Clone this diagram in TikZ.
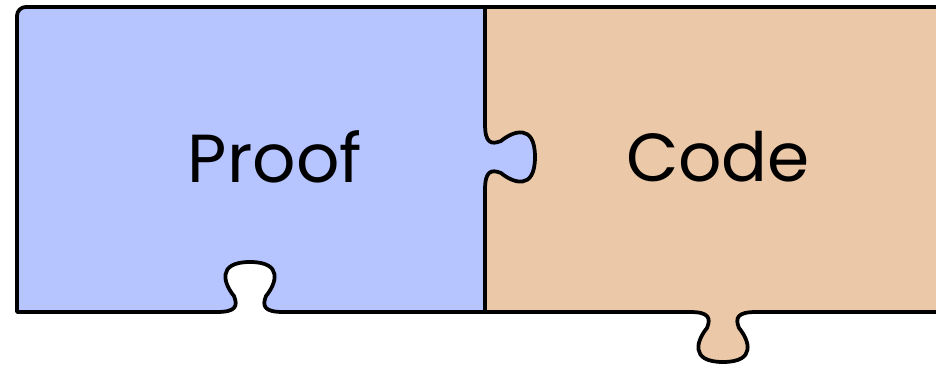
\documentclass[tikz,border=0pt]{standalone}
\usepackage{fontspec}
\setmainfont{Poppins}
\usepackage{tikz}
\usetikzlibrary{positioning}
\definecolor{ProofBlue}{HTML}{B6C4FF}
\definecolor{CodeTan}{HTML}{EBC9A8}

\begin{document}
\begin{tikzpicture}[x=0.03cm,y=0.03cm,line width=3.2pt,line join=round,
  piecelabel/.style={font=\fontsize{58}{60}\selectfont,inner sep=0pt}]
\useasboundingbox (0,0) rectangle (936,365);
\clip (0,0) rectangle (936,365);
% Code piece (fill), tab at the bottom
\fill[CodeTan] (485,53) -- (485,358) -- (950,358) -- (950,53) -- (756,53)
  .. controls (737,53) and (735,47) .. (739,37) .. controls (749,25) and (757,3) .. (723,3)
  .. controls (689,3) and (697,25) .. (707,37) .. controls (711,47) and (709,53) .. (690,53) -- cycle;
\draw (485,358) -- (950,358);
\draw (485,53) -- (690,53) .. controls (709,53) and (711,47) .. (707,37)
  .. controls (697,25) and (689,3) .. (723,3) .. controls (757,3) and (749,25) .. (739,37)
  .. controls (735,47) and (737,53) .. (756,53) -- (950,53);
% Proof piece, tab to the right, slot at the bottom
\draw[fill=ProofBlue] (17,53) [rounded corners=7.5pt] -- (17,358) [sharp corners] -- (485,358) -- (485,241)
  .. controls (485,222) and (491,220) .. (501,224) .. controls (513,234) and (535,242) .. (535,208)
  .. controls (535,174) and (513,182) .. (501,192) .. controls (491,196) and (485,194) .. (485,175)
  -- (485,53) -- (283,53)
  .. controls (264,53) and (262,59) .. (266,69) .. controls (276,81) and (284,103) .. (250,103)
  .. controls (216,103) and (224,81) .. (234,69) .. controls (238,59) and (236,53) .. (217,53) -- cycle;
\node[piecelabel] (proof) at (275,208) {Proof};
\node[piecelabel] (code) at (718,208) {Code};
\end{tikzpicture}
\end{document}
